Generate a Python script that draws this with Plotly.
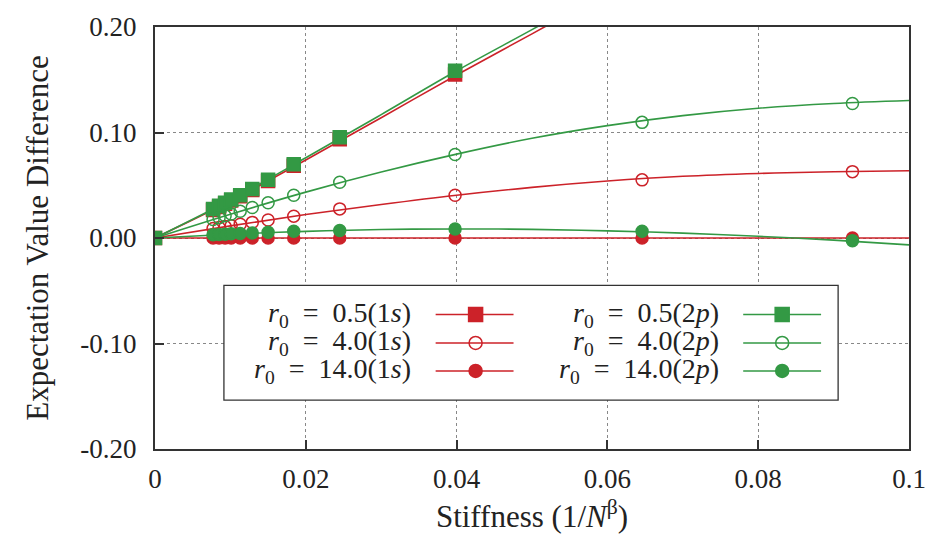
import plotly.graph_objects as go

# ---------------- data ----------------
stiffness = [0.0, 0.0077, 0.0085, 0.0093, 0.0101, 0.0113, 0.0129, 0.0150, 0.0184, 0.0245, 0.0398, 0.0646, 0.0925]

# r0 = 0.5 (only first 11 points are inside the range)
r05_1s = [0.0, 0.0265, 0.0295, 0.0325, 0.0355, 0.0395, 0.0455, 0.0540, 0.0685, 0.0935, 0.1550]
r05_2p = [0.0, 0.0275, 0.0305, 0.0335, 0.0365, 0.0405, 0.0465, 0.0552, 0.0700, 0.0955, 0.1585]
# r0 = 4.0
r40_1s = [0.0, 0.0090, 0.0099, 0.0108, 0.0117, 0.0130, 0.0148, 0.0170, 0.0207, 0.0276, 0.0406, 0.0551, 0.0629]
r40_2p = [0.0, 0.0175, 0.0193, 0.0210, 0.0228, 0.0254, 0.0289, 0.0334, 0.0406, 0.0529, 0.0792, 0.1096, 0.1275]
# r0 = 14.0
r140_1s = [0.0, 0.0000, 0.0000, 0.0000, 0.0000, 0.0000, 0.0000, 0.0000, 0.0000, 0.0000, 0.0000, 0.0000, 0.0000]
r140_2p = [0.0, 0.0030, 0.0033, 0.0036, 0.0040, 0.0043, 0.0048, 0.0055, 0.0063, 0.0072, 0.0086, 0.0063, -0.0025]

# fitted curves
fit_x = [0.0, 0.01, 0.02, 0.03, 0.04, 0.05, 0.06, 0.07, 0.08, 0.09, 0.10]
fit_r05_1s = [0.0, 0.0350, 0.0740, 0.1140, 0.1545, 0.1935, 0.2330, 0.2720, 0.3110, 0.3500, 0.3890]
fit_r05_2p = [0.0, 0.0360, 0.0760, 0.1170, 0.1585, 0.1975, 0.2370, 0.2760, 0.3150, 0.3540, 0.3930]
fit_r40_1s = [0.0, 0.0115, 0.0222, 0.0318, 0.0406, 0.0480, 0.0540, 0.0585, 0.0612, 0.0628, 0.0638]
fit_r40_2p = [0.0, 0.0225, 0.0435, 0.0625, 0.0795, 0.0945, 0.1065, 0.1160, 0.1230, 0.1275, 0.1303]
fit_r140_1s = [0.0] * 11
fit_r140_2p = [0.0, 0.0036, 0.0063, 0.0080, 0.0086, 0.0082, 0.0068, 0.0046, 0.0016, -0.0020, -0.0065]

EQ = "\u2002=\u2002"
labels_1s = ["<i>r</i><sub>0</sub>" + EQ + "0.5(1<i>s</i>)", "<i>r</i><sub>0</sub>" + EQ + "4.0(1<i>s</i>)",
             "<i>r</i><sub>0</sub>" + EQ + "14.0(1<i>s</i>)"]
labels_2p = ["<i>r</i><sub>0</sub>" + EQ + "0.5(2<i>p</i>)", "<i>r</i><sub>0</sub>" + EQ + "4.0(2<i>p</i>)",
             "<i>r</i><sub>0</sub>" + EQ + "14.0(2<i>p</i>)"]

x_tickvals = [0, 0.02, 0.04, 0.06, 0.08, 0.1]
x_ticktext = ["0", "0.02", "0.04", "0.06", "0.08", "0.1"]
y_tickvals = [-0.2, -0.1, 0.0, 0.1, 0.2]
y_ticktext = ["-0.20", "-0.10", "0.00", "0.10", "0.20"]

# ---------------- styling ----------------
RED = "#cc2229"
GREEN = "#339944"
FONT = "Liberation Serif"
TXT = "#222222"
symbols = ["square", "circle-open", "circle"]
msizes = [13, 12, 12]

fig = go.Figure()

def add_series(fx, fy, px, py, color, sym, ms):
    fig.add_trace(go.Scatter(x=fx, y=fy, mode="lines", line=dict(color=color, width=1.6, shape="spline", smoothing=1.0),
                             showlegend=False, hoverinfo="skip", cliponaxis=True))
    fig.add_trace(go.Scatter(x=px, y=py, mode="markers",
                             marker=dict(symbol=sym, size=ms, color=color, line=dict(color=color, width=1.5)),
                             showlegend=False, cliponaxis=True))

series_1s = [(fit_r05_1s, r05_1s), (fit_r40_1s, r40_1s), (fit_r140_1s, r140_1s)]
series_2p = [(fit_r05_2p, r05_2p), (fit_r40_2p, r40_2p), (fit_r140_2p, r140_2p)]

for (fy, py), sym, ms in zip(series_1s, symbols, msizes):
    add_series(fit_x, fy, stiffness[:len(py)], py, RED, sym, ms)
for (fy, py), sym, ms in zip(series_2p, symbols, msizes):
    add_series(fit_x, fy, stiffness[:len(py)], py, GREEN, sym, ms)

# ---------------- custom gnuplot-style legend ----------------
XR = (0.0, 0.1)
YR = (-0.2, 0.2)
def fx_(f):
    return XR[0] + f * (XR[1] - XR[0])
def fy_(f):
    return YR[0] + f * (YR[1] - YR[0])

box = dict(x0=0.0914, x1=0.906, y0=0.116, y1=0.3875)
rows = [0.3186, 0.2513, 0.1849]
cols = [dict(text_r=0.3417, l0=0.3722, l1=0.4755, m=0.4252, color=RED, labels=labels_1s),
        dict(text_r=0.751, l0=0.7801, l1=0.8834, m=0.8318, color=GREEN, labels=labels_2p)]

fig.add_shape(type="rect", xref="x", yref="y", x0=fx_(box["x0"]), x1=fx_(box["x1"]),
              y0=fy_(box["y0"]), y1=fy_(box["y1"]), fillcolor="white",
              line=dict(color="#333333", width=1.3), layer="between")

for c in cols:
    for r, lab, sym, ms in zip(rows, c["labels"], symbols, msizes):
        fig.add_trace(go.Scatter(x=[fx_(c["l0"]), fx_(c["l1"])], y=[fy_(r), fy_(r)], mode="lines",
                                 line=dict(color=c["color"], width=1.6), showlegend=False, hoverinfo="skip"))
        fig.add_trace(go.Scatter(x=[fx_(c["m"])], y=[fy_(r)], mode="markers",
                                 marker=dict(symbol=sym, size=ms + 1, color=c["color"], line=dict(color=c["color"], width=1.5)),
                                 showlegend=False, hoverinfo="skip"))
        fig.add_annotation(x=c["text_r"], y=r, xref="paper", yref="paper", text=lab, showarrow=False,
                           xanchor="right", yanchor="middle", font=dict(family=FONT, size=28, color=TXT))

axis_common = dict(showline=True, linecolor="#333333", linewidth=2, mirror=True,
                   ticks="inside", ticklen=9, tickwidth=1.5, tickcolor="#333333",
                   showgrid=True, gridcolor="#888888", gridwidth=1, griddash="dot",
                   zeroline=False, tickfont=dict(family=FONT, size=27, color=TXT))

fig.update_xaxes(range=list(XR), tickvals=x_tickvals, ticktext=x_ticktext, ticklabelstandoff=5,
                 title=dict(text="Stiffness (1/<i>N</i><sup>β</sup>)", font=dict(family=FONT, size=31, color=TXT), standoff=12),
                 **axis_common)
fig.update_yaxes(range=list(YR), tickvals=y_tickvals, ticktext=y_ticktext, ticklabelstandoff=11,
                 title=dict(text="Expectation Value Difference", font=dict(family=FONT, size=31, color=TXT), standoff=22),
                 **axis_common)

fig.update_layout(width=938, height=542, margin=dict(l=155, r=28, t=18, b=93),
                  plot_bgcolor="white", paper_bgcolor="white", showlegend=False)

fig.write_html("out.html")
